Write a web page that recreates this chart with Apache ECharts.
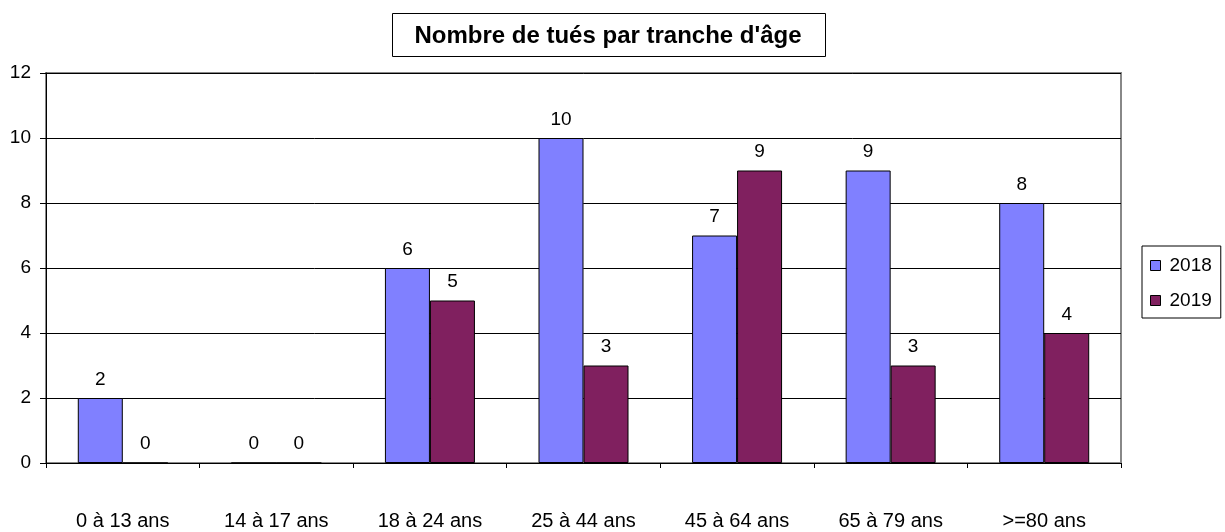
<!DOCTYPE html>
<html><head><meta charset="utf-8">
<script src="https://cdn.jsdelivr.net/npm/echarts@6/dist/echarts.min.js"></script>
<style>html,body{margin:0;padding:0;background:#fff}#c{width:1225px;height:532px}</style>
</head><body><div id="c"></div>
<script>
const categories = ['0 à 13 ans','14 à 17 ans','18 à 24 ans','25 à 44 ans','45 à 64 ans','65 à 79 ans','>=80 ans'];
const values2018 = [2, 0, 6, 10, 7, 9, 8];
const values2019 = [0, 0, 5, 3, 9, 3, 4];
const seriesNames = ['2018', '2019'];
const titleText = "Nombre de tués par tranche d'âge";

const font = 'Arial, "Liberation Sans", sans-serif';
const chart = echarts.init(document.getElementById('c'), null, {renderer: 'canvas'});
const labelCfg = {show: true, position: 'top', distance: 9, color: '#000', fontSize: 19, fontFamily: font};
chart.setOption({
  animation: false,
  backgroundColor: '#fff',
  graphic: [
    {type: 'rect', shape: {x: 392.5, y: 13.5, width: 433, height: 43},
     style: {fill: '#fff', stroke: '#000', lineWidth: 1}, z: 10},
    {type: 'text', x: 608, y: 36, z: 11,
     style: {text: titleText, fill: '#000', font: 'bold 24px Arial, "Liberation Sans", sans-serif',
             textAlign: 'center', textVerticalAlign: 'middle', align: 'center', verticalAlign: 'middle'}}
  ],
  legend: {
    orient: 'vertical', left: 1142, top: 246,
    padding: [10, 9, 8, 8], itemGap: 16,
    borderColor: '#000', borderWidth: 1,
    itemWidth: 10, itemHeight: 10,
    icon: 'rect',
    itemStyle: {borderColor: '#000', borderWidth: 1},
    textStyle: {fontSize: 19, fontFamily: font, color: '#000', padding: [0, 0, 0, 4]},
    data: seriesNames
  },
  grid: {left: 46, right: 104, top: 73, bottom: 69, show: true, borderColor: '#888', borderWidth: 2, backgroundColor: '#fff'},
  xAxis: {
    type: 'category', data: categories,
    axisLine: {lineStyle: {color: '#000', width: 1}},
    axisTick: {show: true, length: 5, lineStyle: {color: '#000'}},
    axisLabel: {fontSize: 20, fontFamily: font, color: '#000', margin: 48}
  },
  yAxis: {
    type: 'value', min: 0, max: 12, interval: 2,
    axisLine: {show: true, lineStyle: {color: '#000', width: 1}},
    axisTick: {show: true, length: 6, lineStyle: {color: '#000'}},
    axisLabel: {fontSize: 19, fontFamily: font, color: '#000', margin: 15},
    splitLine: {lineStyle: {color: '#000', width: 1}}
  },
  series: [
    {name: seriesNames[0], type: 'bar', data: values2018, barWidth: 45, barGap: '0%',
     itemStyle: {color: '#8080FF', borderColor: '#000', borderWidth: 1}, label: labelCfg},
    {name: seriesNames[1], type: 'bar', data: values2019, barWidth: 45, barGap: '0%',
     itemStyle: {color: '#80205F', borderColor: '#000', borderWidth: 1}, label: labelCfg}
  ]
});
</script></body></html>
